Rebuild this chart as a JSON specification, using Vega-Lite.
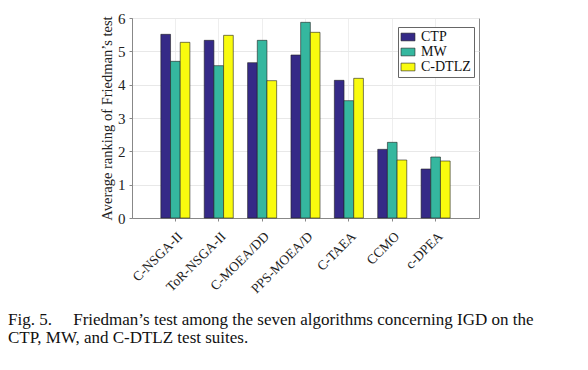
{
  "$schema": "https://vega.github.io/schema/vega-lite/v6.json",
  "width": 347,
  "height": 200,
  "autosize": {"type": "none"},
  "padding": {"left": 132, "top": 18, "right": 109, "bottom": 152},
  "background": "white",
  "config": {
    "font": "Liberation Serif",
    "view": {"stroke": "#888888", "strokeWidth": 1}
  },
  "title": {
    "text": ["Fig. 5.\u00a0\u00a0\u00a0\u00a0 Friedman’s test among the seven algorithms concerning IGD on the", "CTP, MW, and C-DTLZ test suites."],
    "orient": "bottom",
    "anchor": "start",
    "frame": "group",
    "dx": -124,
    "offset": 17,
    "font": "Liberation Serif",
    "fontSize": 17,
    "fontWeight": "normal",
    "color": "#111111",
    "lineHeight": 18
  },
  "data": {
    "values": [
      {"alg": "C-NSGA-II", "suite": "CTP", "rank": 5.51},
      {"alg": "C-NSGA-II", "suite": "MW", "rank": 4.70},
      {"alg": "C-NSGA-II", "suite": "C-DTLZ", "rank": 5.27},
      {"alg": "ToR-NSGA-II", "suite": "CTP", "rank": 5.33},
      {"alg": "ToR-NSGA-II", "suite": "MW", "rank": 4.57},
      {"alg": "ToR-NSGA-II", "suite": "C-DTLZ", "rank": 5.48},
      {"alg": "C-MOEA/DD", "suite": "CTP", "rank": 4.66},
      {"alg": "C-MOEA/DD", "suite": "MW", "rank": 5.33},
      {"alg": "C-MOEA/DD", "suite": "C-DTLZ", "rank": 4.12},
      {"alg": "PPS-MOEA/D", "suite": "CTP", "rank": 4.89},
      {"alg": "PPS-MOEA/D", "suite": "MW", "rank": 5.87},
      {"alg": "PPS-MOEA/D", "suite": "C-DTLZ", "rank": 5.57},
      {"alg": "C-TAEA", "suite": "CTP", "rank": 4.13},
      {"alg": "C-TAEA", "suite": "MW", "rank": 3.52},
      {"alg": "C-TAEA", "suite": "C-DTLZ", "rank": 4.19},
      {"alg": "CCMO", "suite": "CTP", "rank": 2.06},
      {"alg": "CCMO", "suite": "MW", "rank": 2.27},
      {"alg": "CCMO", "suite": "C-DTLZ", "rank": 1.74},
      {"alg": "c-DPEA", "suite": "CTP", "rank": 1.47},
      {"alg": "c-DPEA", "suite": "MW", "rank": 1.83},
      {"alg": "c-DPEA", "suite": "C-DTLZ", "rank": 1.71}
    ]
  },
  "mark": {"type": "bar", "stroke": "#222222", "strokeWidth": 0.6},
  "encoding": {
    "x": {
      "field": "alg",
      "type": "nominal",
      "sort": null,
      "scale": {"paddingInner": 0.33, "paddingOuter": 0.665},
      "axis": {
        "title": null,
        "labelAngle": -45,
        "labelAlign": "right",
        "labelBaseline": "top",
        "labelFont": "Liberation Serif",
        "labelFontSize": 13.5,
        "labelColor": "#222222",
        "labelPadding": 8,
        "domainColor": "#888888",
        "tickColor": "#888888",
        "tickSize": 3,
        "grid": true,
        "gridColor": "#eeeeee",
        "bandPosition": 0.5
      }
    },
    "xOffset": {"field": "suite", "type": "nominal", "sort": ["CTP", "MW", "C-DTLZ"]},
    "y": {
      "field": "rank",
      "type": "quantitative",
      "scale": {"domain": [0, 6], "nice": false},
      "axis": {
        "title": "Average ranking of Friedman’s test",
        "titleFont": "Liberation Serif",
        "titleFontSize": 14.5,
        "titleFontWeight": "normal",
        "titleColor": "#222222",
        "titlePadding": 3,
        "values": [0, 1, 2, 3, 4, 5, 6],
        "labelFont": "Liberation Serif",
        "labelFontSize": 15,
        "labelColor": "#222222",
        "labelPadding": 4,
        "domainColor": "#888888",
        "tickColor": "#888888",
        "tickSize": 3,
        "grid": true,
        "gridColor": "#e8e8e8"
      }
    },
    "color": {
      "field": "suite",
      "type": "nominal",
      "sort": ["CTP", "MW", "C-DTLZ"],
      "scale": {"domain": ["CTP", "MW", "C-DTLZ"], "range": ["#352a87", "#35b79f", "#f9fb0e"]},
      "legend": {
        "title": null,
        "orient": "none",
        "legendX": 266,
        "legendY": 9,
        "symbolType": "M-1.8,-1L1.8,-1L1.8,1L-1.8,1Z",
        "symbolSize": 60,
        "symbolStrokeColor": "#222222",
        "symbolStrokeWidth": 0.6,
        "labelFont": "Liberation Serif",
        "labelFontSize": 14,
        "labelColor": "#111111",
        "labelOffset": 6,
        "rowPadding": 1,
        "padding": 3,
        "strokeColor": "#666666",
        "fillColor": "white"
      }
    }
  }
}
